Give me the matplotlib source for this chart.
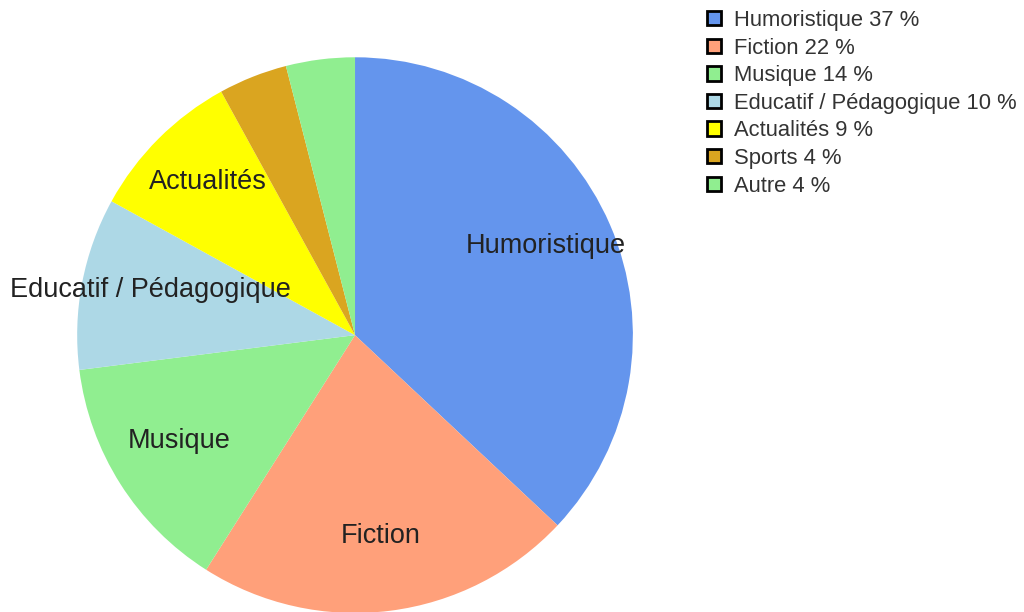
import numpy as np
import matplotlib.pyplot as plt
from matplotlib.patches import Patch

plt.rcParams['font.family'] = ['Liberation Sans', 'DejaVu Sans']

# data
categories = ['Humoristique', 'Fiction', 'Musique', 'Educatif / Pédagogique',
              'Actualités', 'Sports', 'Autre']
values = [37, 22, 14, 10, 9, 4, 4]
colors = ['#6495ED', '#FFA07A', '#90EE90', '#ADD8E6', '#FFFF00', '#DAA520', '#90EE90']
show_label = [True, True, True, True, True, False, False]

fig = plt.figure(figsize=(10.24, 6.12), dpi=100)
ax = fig.add_axes([0.0752, -0.0016, 0.543, 0.908])

wedges, _ = ax.pie(values, colors=colors, startangle=90, counterclock=False,
                   radius=1.0, wedgeprops=dict(linewidth=0))
ax.set_xlim(-1, 1)
ax.set_ylim(-1, 1)
ax.set_aspect('equal')

# labels inside the slices
for w, name, show in zip(wedges, categories, show_label):
    if not show:
        continue
    mid = np.deg2rad((w.theta1 + w.theta2) / 2)
    r = 0.75
    ax.text(r * np.cos(mid), r * np.sin(mid) + 0.022, name, ha='center', va='center',
            fontsize=19.5, color='#222222')

# legend
handles = [Patch(facecolor=c, edgecolor='black', linewidth=2) for c in colors]
labels = [f'{n} {v} %' for n, v in zip(categories, values)]
fig.legend(handles, labels, loc='upper left', bbox_to_anchor=(707 / 1024, 1 - 10 / 612),
           frameon=False, fontsize=15.8, handlelength=0.62, handleheight=0.62,
           handletextpad=0.62, labelspacing=0.3, borderpad=0, borderaxespad=0,
           labelcolor='#333333')

fig.savefig('out.png', dpi=100)
